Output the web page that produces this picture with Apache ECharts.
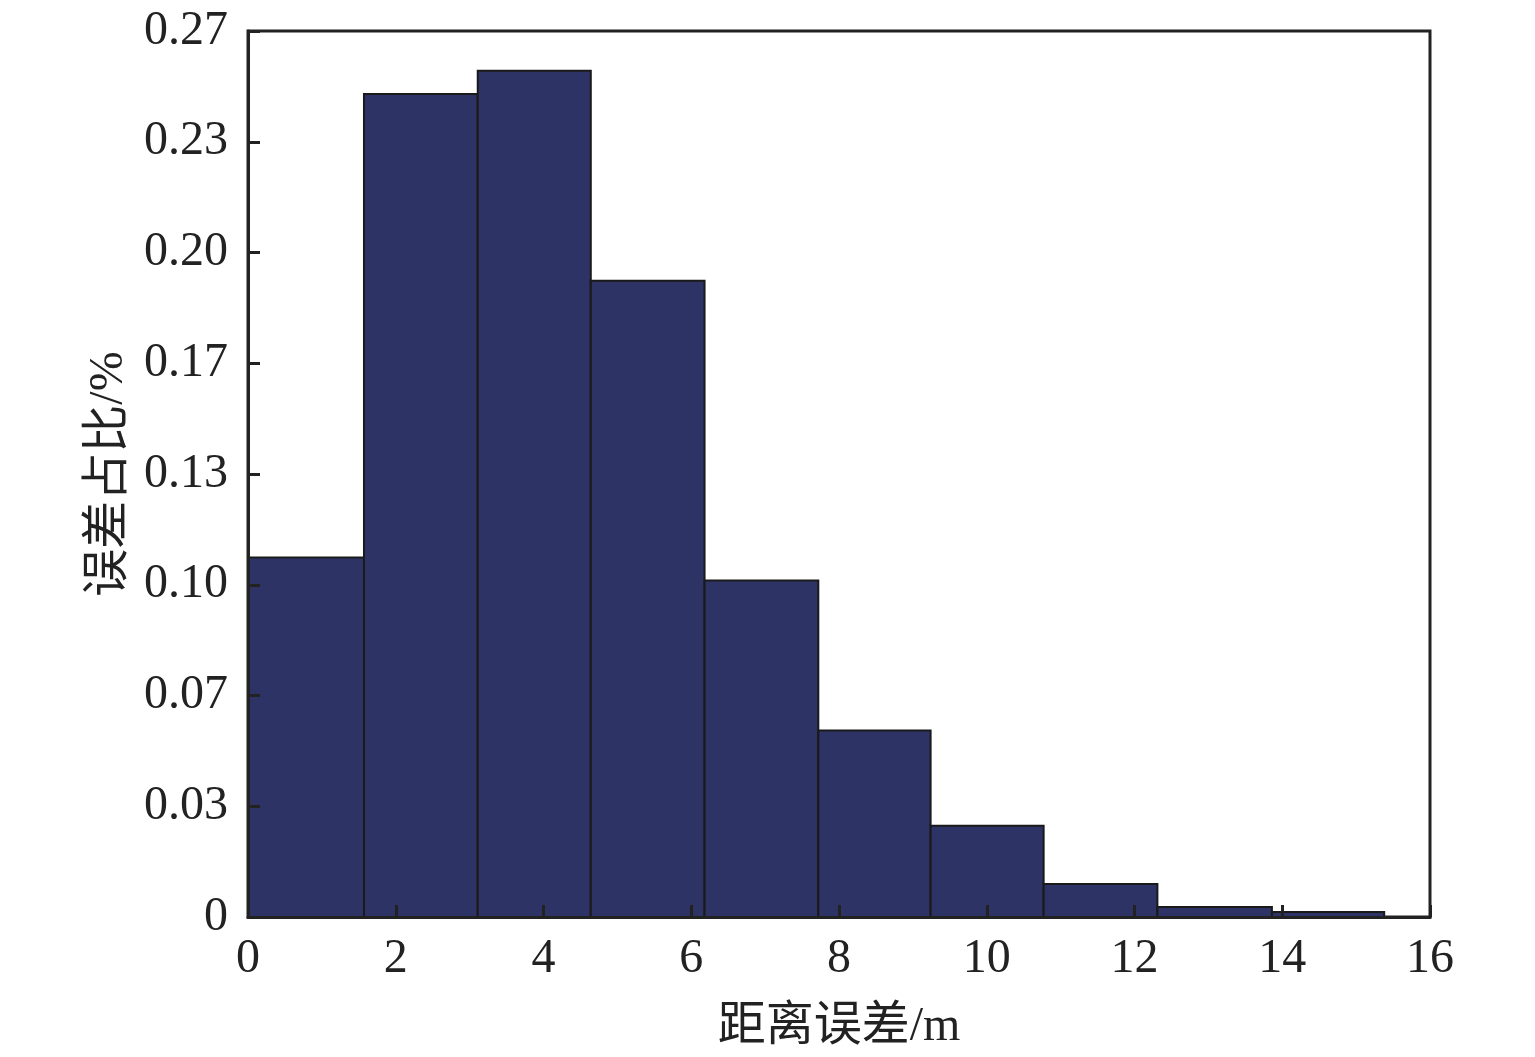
<!DOCTYPE html>
<html>
<head>
<meta charset="utf-8">
<script src="https://cdn.jsdelivr.net/npm/echarts@6/dist/echarts.min.js"></script>
<style>html,body{margin:0;padding:0;background:#fff;}#c{width:1535px;height:1057px;}</style>
</head>
<body>
<div id="c"></div>
<script>
// Data
const binStart = [0, 1.57, 3.11, 4.64, 6.18, 7.72, 9.24, 10.77, 12.31, 13.86];
const binEnd   = [1.57, 3.11, 4.64, 6.18, 7.72, 9.24, 10.77, 12.31, 13.86, 15.38];
const ratio    = [0.1082, 0.2477, 0.2547, 0.1915, 0.1013, 0.0561, 0.0275, 0.0099, 0.0030, 0.0015];
const xTickLabels = ['0', '2', '4', '6', '8', '10', '12', '14', '16'];
const yTickLabels = ['0', '0.03', '0.07', '0.10', '0.13', '0.17', '0.20', '0.23', '0.27'];
const xName = '距离误差/m';
const yName = '误差占比/%';

const fontFam = '"Liberation Serif", "Times New Roman", "Noto Sans CJK SC", serif';
const yInterval = 1 / 30;
const chart = echarts.init(document.getElementById('c'), null, {renderer: 'canvas'});
const data = binStart.map((s, i) => [s, binEnd[i], ratio[i]]);
const axisCommon = {
  axisLine: {show: true, onZero: false, lineStyle: {color: '#222', width: 3}},
  axisTick: {show: true, inside: true, length: 12, lineStyle: {color: '#222', width: 3}},
  splitLine: {show: false},
  nameTextStyle: {fontFamily: fontFam, fontSize: 48, color: '#222'},
  z: 5
};
chart.setOption({
  animation: false,
  backgroundColor: '#fff',
  grid: {left: 248, right: 105, top: 31, bottom: 140, containLabel: false, outerBoundsMode: 'none',
    show: true, borderColor: '#222', borderWidth: 3, backgroundColor: 'transparent'},
  xAxis: Object.assign({}, axisCommon, {
    type: 'value', min: 0, max: 16, interval: 2,
    name: xName, nameLocation: 'middle', nameGap: 86,
    axisLabel: {fontFamily: fontFam, fontSize: 48, color: '#222', margin: 18,
      formatter: v => xTickLabels[Math.round(v / 2)]}
  }),
  yAxis: Object.assign({}, axisCommon, {
    type: 'value', min: 0, max: 8 / 30, interval: yInterval,
    name: yName, nameLocation: 'middle', nameGap: 115, nameRotate: 90,
    axisLabel: {fontFamily: fontFam, fontSize: 48, color: '#222', margin: 20,
      formatter: v => yTickLabels[Math.round(v / yInterval)]}
  }),
  series: [{
    type: 'custom',
    data: data,
    encode: {x: [0, 1], y: 2},
    z: 2,
    renderItem: function (params, api) {
      const p0 = api.coord([api.value(0), api.value(2)]);
      const p1 = api.coord([api.value(1), 0]);
      return {
        type: 'rect',
        shape: {x: p0[0], y: p0[1], width: p1[0] - p0[0], height: p1[1] - p0[1]},
        style: {fill: '#2d3465', stroke: '#1a1a1a', lineWidth: 2}
      };
    }
  }]
});
</script>
</body>
</html>
